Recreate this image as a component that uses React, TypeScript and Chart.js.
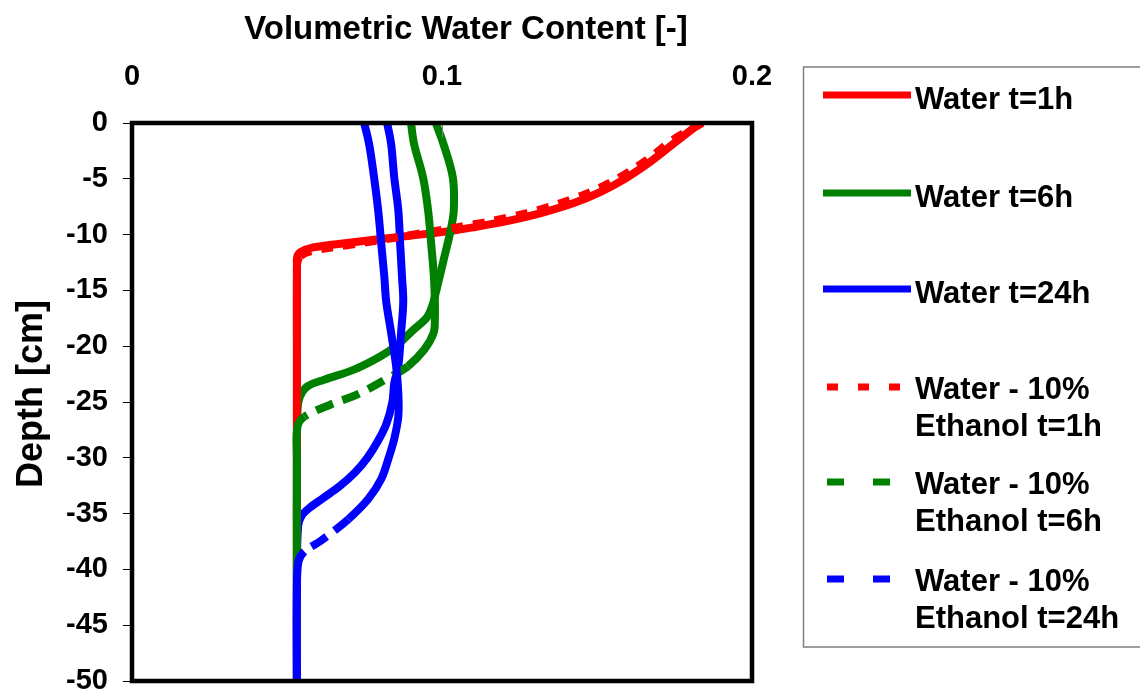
import React, { useEffect, useRef } from 'react';
import { Chart, registerables } from 'chart.js';

Chart.register(...registerables);

const FONT = '"Liberation Sans", Arial, Helvetica, sans-serif';

const xAxisTitle = 'Volumetric Water Content [-]';
const yAxisTitle = 'Depth [cm]';
const xTickValues = [0, 0.1, 0.2];
const yTickValues = [0, -5, -10, -15, -20, -25, -30, -35, -40, -45, -50];

// Water t=1h
const water1hDepth = [0, -1.9, -3.5, -5.0, -6.2, -7.2, -8.1, -8.8, -9.35, -9.8, -10.1, -10.4, -10.75, -11.15, -11.6, -12.0, -12.6, -20, -30, -40, -50];
const water1hTheta = [0.1832, 0.1745, 0.1671, 0.159, 0.151, 0.1423, 0.1316, 0.121, 0.11, 0.0994, 0.0897, 0.08, 0.0694, 0.0584, 0.0542, 0.0533, 0.0532, 0.0532, 0.0532, 0.0532, 0.0532];
// Water t=6h
const water6hDepth = [0, -1.9, -4.9, -7.8, -9.6, -12.3, -15.2, -16.1, -17.4, -18.5, -19.9, -20.9, -22.1, -23.0, -23.6, -24.5, -25.7, -30, -40, -50];
const water6hTheta = [0.098, 0.1005, 0.1035, 0.1038, 0.1028, 0.1005, 0.098, 0.0972, 0.0952, 0.0909, 0.0855, 0.0802, 0.0716, 0.062, 0.0566, 0.0542, 0.0534, 0.0532, 0.0532, 0.0532];
// Water t=24h
const water24hDepth = [0, -1.9, -4.9, -7.8, -10.8, -13.8, -16, -18.8, -21.8, -23.3, -25, -27, -28.6, -30, -31.3, -32.5, -33.6, -34.5, -35.2, -36.1, -40, -50];
const water24hTheta = [0.0823, 0.0836, 0.0846, 0.0859, 0.0865, 0.0871, 0.0875, 0.0868, 0.0859, 0.0846, 0.084, 0.082, 0.0791, 0.0759, 0.072, 0.0672, 0.0617, 0.0572, 0.0547, 0.0536, 0.0532, 0.0532];
// Water - 10% Ethanol t=1h
const ethanol1hDepth = [0, -1.5, -3.1, -4.6, -5.8, -6.8, -7.75, -8.5, -9.1, -9.6, -10.05, -10.5, -10.95, -11.45, -11.95, -12.6, -13.2, -20, -30, -40, -50];
const ethanol1hTheta = [0.184, 0.1745, 0.1671, 0.159, 0.151, 0.1423, 0.1316, 0.121, 0.11, 0.0994, 0.0897, 0.08, 0.0694, 0.0584, 0.0542, 0.0533, 0.0532, 0.0532, 0.0532, 0.0532, 0.0532];
// Water - 10% Ethanol t=6h
const ethanol6hDepth = [0, -1.9, -4.9, -7.8, -10.8, -13.8, -16.1, -17.5, -18.8, -20.3, -21.8, -22.7, -24.3, -25.2, -26.3, -27.2, -30, -40, -50];
const ethanol6hTheta = [0.09, 0.091, 0.0939, 0.0955, 0.0965, 0.0974, 0.0977, 0.0977, 0.0973, 0.0943, 0.089, 0.0836, 0.0729, 0.0643, 0.0557, 0.0534, 0.0532, 0.0532, 0.0532];
// Water - 10% Ethanol t=24h
const ethanol24hDepth = [0, -1.9, -4.9, -7.8, -10.8, -13.8, -16, -18.8, -21.8, -24.2, -26.3, -28.3, -30, -31.9, -33.7, -35.5, -37.4, -38.4, -39.3, -42, -50];
const ethanol24hTheta = [0.0749, 0.0765, 0.0781, 0.0794, 0.0804, 0.0814, 0.082, 0.0836, 0.0852, 0.0859, 0.0859, 0.0846, 0.0828, 0.0804, 0.0762, 0.0698, 0.0611, 0.0556, 0.0537, 0.0532, 0.0532];

const seriesLabels = [
  ['Water t=1h'],
  ['Water t=6h'],
  ['Water t=24h'],
  ['Water - 10%', 'Ethanol t=1h'],
  ['Water - 10%', 'Ethanol t=6h'],
  ['Water - 10%', 'Ethanol t=24h'],
];
const seriesColors = ['#FF0000', '#008000', '#0000FF', '#FF0000', '#008000', '#0000FF'];
const seriesDepths = [water1hDepth, water6hDepth, water24hDepth, ethanol1hDepth, ethanol6hDepth, ethanol24hDepth];
const seriesThetas = [water1hTheta, water6hTheta, water24hTheta, ethanol1hTheta, ethanol6hTheta, ethanol24hTheta];

// styles
const plotDash: (number[] | null)[] = [null, null, null, [12, 10], [18, 10], [18, 10]];
const legendDash: number[][] = [[], [], [], [11, 20], [17, 29], [17, 29]];
const legendLineY = [95, 193, 289, 387, 482, 579];

const toPoints = (depth: number[], theta: number[]) => depth.map((y, i) => ({ x: theta[i], y }));

const decorPlugin = {
  id: 'decor',
  afterDatasetsDraw(chart: any) {
    const { ctx, chartArea: a, scales } = chart;
    ctx.save();
    // inner x tick marks
    ctx.strokeStyle = '#808080';
    ctx.lineWidth = 1;
    xTickValues.forEach((v) => {
      const px = Math.round(scales.x.getPixelForValue(v)) + 0.5;
      ctx.beginPath();
      ctx.moveTo(px, a.top);
      ctx.lineTo(px, a.top + 14);
      ctx.stroke();
    });
    // frame
    ctx.strokeStyle = '#000';
    ctx.lineWidth = 4.5;
    ctx.strokeRect(a.left, a.top, a.right - a.left, a.bottom - a.top);
    // axis titles
    ctx.fillStyle = '#000';
    ctx.textAlign = 'center';
    ctx.textBaseline = 'alphabetic';
    ctx.font = `bold 33px ${FONT}`;
    ctx.fillText(xAxisTitle, 466, 39);
    ctx.save();
    ctx.translate(42, 394);
    ctx.rotate(-Math.PI / 2);
    ctx.font = `bold 36px ${FONT}`;
    ctx.fillText(yAxisTitle, 0, 0);
    ctx.restore();
    // legend box
    ctx.strokeStyle = '#808080';
    ctx.lineWidth = 1.5;
    ctx.strokeRect(803.5, 67, 400, 580);
    // legend items
    chart.data.datasets.forEach((ds: any, i: number) => {
      const y = legendLineY[i];
      const dash = legendDash[i];
      ctx.strokeStyle = ds.borderColor;
      ctx.lineWidth = 7;
      ctx.lineCap = 'butt';
      ctx.setLineDash(dash);
      ctx.beginPath();
      ctx.moveTo(dash.length ? 827 : 823, y);
      ctx.lineTo(911, y);
      ctx.stroke();
      ctx.setLineDash([]);
      ctx.fillStyle = '#000';
      ctx.textAlign = 'left';
      ctx.font = `bold 31px ${FONT}`;
      const lines: string[] = seriesLabels[i];
      const base = lines.length > 1 ? y + 12 : y + 14;
      lines.forEach((t, k) => ctx.fillText(t, 915, base + k * 37));
    });
    ctx.restore();
  },
};

export default function App() {
  const ref = useRef<HTMLCanvasElement | null>(null);
  useEffect(() => {
    document.body.style.margin = '0';
    if (!ref.current) return;
    const datasets = seriesLabels.map((lab, i) => {
      const dash = plotDash[i];
      const ds: any = {
        label: lab.join(' '),
        data: toPoints(seriesDepths[i], seriesThetas[i]),
        borderColor: seriesColors[i],
        backgroundColor: seriesColors[i],
        borderWidth: 8,
        pointRadius: 0,
        pointHoverRadius: 0,
        tension: 0.35,
        fill: false,
        order: 6 - i,
        borderJoinStyle: 'round',
        borderCapStyle: 'butt',
      };
      if (dash) {
        ds.segment = {
          borderDash: (c: any) => {
            const dx = Math.abs(c.p1.x - c.p0.x);
            const dy = Math.abs(c.p1.y - c.p0.y);
            return dx > dy * 1.2 ? dash : [];
          },
        };
      }
      return ds;
    });
    const tickFont = { family: FONT, size: 29, weight: 'bold' as const };
    const chart = new Chart(ref.current, {
      type: 'line',
      data: { datasets },
      options: {
        animation: false,
        responsive: false,
        maintainAspectRatio: false,
        events: [],
        layout: { padding: { left: 0, top: 0, right: 388, bottom: 17 } },
        plugins: {
          legend: { display: false },
          tooltip: { enabled: false },
          title: { display: false },
        },
        scales: {
          x: {
            type: 'linear',
            position: 'top',
            min: 0,
            max: 0.2,
            afterBuildTicks: (s: any) => {
              s.ticks = xTickValues.map((v) => ({ value: v }));
            },
            afterFit: (s: any) => {
              s.height = 123;
              s.paddingLeft = 0;
              s.paddingRight = 0;
            },
            ticks: {
              font: tickFont,
              color: '#000',
              padding: 29,
              maxRotation: 0,
              autoSkip: false,
              callback: (v: any) => String(v),
            },
            grid: { display: false, drawTicks: false },
            border: { display: false },
          },
          y: {
            type: 'linear',
            min: -50,
            max: 0,
            afterBuildTicks: (s: any) => {
              s.ticks = yTickValues.map((v) => ({ value: v }));
            },
            afterFit: (s: any) => {
              s.width = 132;
              s.paddingTop = 0;
              s.paddingBottom = 0;
            },
            ticks: {
              font: tickFont,
              color: '#000',
              padding: 15,
              autoSkip: false,
              callback: (v: any) => String(v),
            },
            grid: { drawOnChartArea: false, drawTicks: true, tickLength: 9, color: '#000', lineWidth: 1 },
            border: { display: false },
          },
        },
      },
      plugins: [decorPlugin],
    } as any);
    return () => chart.destroy();
  }, []);
  return (
    <div style={{ width: 1140, height: 698, background: '#fff' }}>
      <canvas ref={ref} width={1140} height={698} style={{ display: 'block', width: 1140, height: 698 }} />
    </div>
  );
}
